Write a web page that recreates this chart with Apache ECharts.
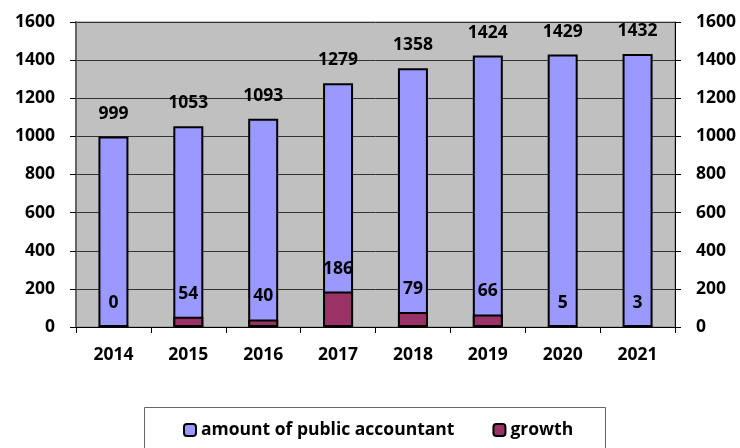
<!DOCTYPE html>
<html>
<head>
<meta charset="utf-8">
<script src="https://cdn.jsdelivr.net/npm/echarts@6/dist/echarts.min.js"></script>
<style>html,body{margin:0;padding:0;background:#fff}#c{width:740px;height:448px}</style>
</head>
<body>
<div id="c"></div>
<script>
const years = ['2014','2015','2016','2017','2018','2019','2020','2021'];
const amount = [999, 1053, 1093, 1279, 1358, 1424, 1429, 1432];
const growth = [0, 54, 40, 186, 79, 66, 5, 3];
const seriesNames = ['amount of public accountant', 'growth'];

const font = '"Open Sans", Lato, sans-serif';
const txt = {fontFamily: font, fontWeight: 'bold', fontSize: 17.5, color: '#000'};
const chart = echarts.init(document.getElementById('c'), null, {renderer: 'canvas'});
const yAxisBase = {
  type: 'value', min: 0, max: 1600, interval: 200,
  axisTick: {show: true, length: 6, lineStyle: {color: '#000'}},
  axisLabel: Object.assign({margin: 21, formatter: v => String(v)}, txt),
  splitLine: {show: false}
};
chart.setOption({
  animation: false,
  backgroundColor: '#fff',
  grid: {left: 76, right: 65, top: 22, bottom: 121, show: true, backgroundColor: '#c0c0c0', borderColor: '#808080', borderWidth: 1},
  graphic: [{type: 'rect', shape: {x: 144.5, y: 407.5, width: 461, height: 60}, style: {fill: 'none', stroke: '#666', lineWidth: 1}}],
  legend: {
    left: 183, top: 421, itemWidth: 12, itemHeight: 12, itemGap: 38, padding: 0,
    textStyle: Object.assign({}, txt, {fontSize: 17.5}),
    data: seriesNames.map(n => ({name: n, itemStyle: {borderColor: '#000', borderWidth: 2}}))
  },
  xAxis: {
    type: 'category', data: years,
    axisLine: {lineStyle: {color: '#000', width: 1}},
    axisTick: {show: true, length: 6, lineStyle: {color: '#000'}},
    axisLabel: Object.assign({margin: 19}, txt)
  },
  yAxis: [
    Object.assign({}, yAxisBase, {position: 'left', axisLine: {show: true, lineStyle: {color: '#666', width: 2}},
      splitLine: {show: true, lineStyle: {color: '#333', width: 1}}}),
    Object.assign({}, yAxisBase, {position: 'right', axisLine: {show: true, lineStyle: {color: '#000', width: 1}}})
  ],
  series: [
    {name: seriesNames[0], type: 'bar', data: amount, barWidth: 30, barGap: '-100%',
     itemStyle: {color: '#9999ff', borderColor: '#000', borderWidth: 2},
     label: Object.assign({show: true, position: 'top', distance: 14}, txt)},
    {name: seriesNames[1], type: 'bar', data: growth, barWidth: 30, barGap: '-100%',
     itemStyle: {color: '#993366', borderColor: '#000', borderWidth: 2},
     label: Object.assign({show: true, position: 'top', distance: 14}, txt)}
  ]
});
</script>
</body>
</html>
